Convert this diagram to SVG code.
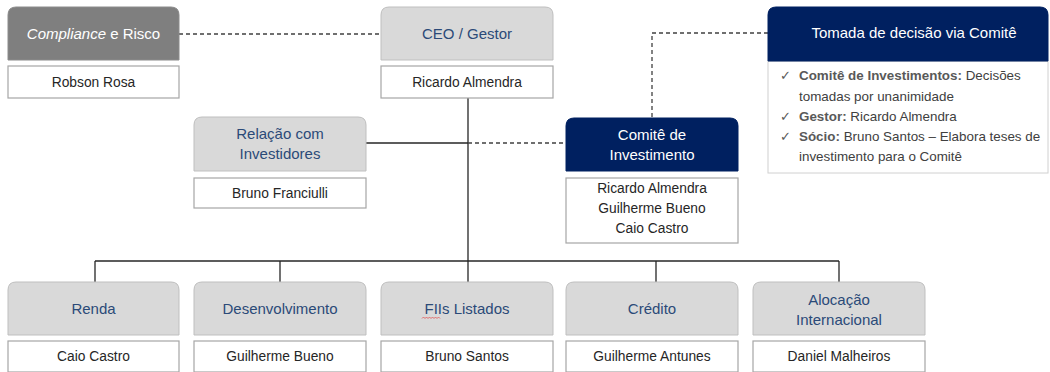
<svg xmlns="http://www.w3.org/2000/svg" width="1050" height="372" viewBox="0 0 1050 372">
<style>
text{font-family:"Liberation Sans","DejaVu Sans",sans-serif;text-anchor:middle}
.hg{fill:#d9d9d9;stroke:#bfbfbf;stroke-width:1}
.hd{fill:#7f7f7f;stroke:#8c8c8c;stroke-width:1}
.hn{fill:#002060;stroke:#002060;stroke-width:1}
.nb{fill:#ffffff;stroke:#a6a6a6;stroke-width:1.2}
.th{font-size:15px;fill:#2b4a78}
.tw{font-size:15px;fill:#ffffff}
.tn{font-size:13.8px;fill:#262626}
.solid{stroke:#262626;stroke-width:1.3;fill:none}
.dash{stroke:#404040;stroke-width:1.3;fill:none;stroke-dasharray:4 3}
.bt{font-size:13.4px;fill:#404040;text-anchor:start}
.bt .b{font-weight:bold;fill:#595959}
.ck{font-size:13px;fill:#595959;text-anchor:start}
</style>
<g id="connectors">
<line class="dash" x1="179" y1="34" x2="381" y2="34"/>
<line class="solid" x1="468" y1="98" x2="468" y2="261"/>
<line class="solid" x1="366" y1="143" x2="468" y2="143"/>
<line class="dash" x1="468" y1="143" x2="566" y2="143"/>
<polyline class="dash" points="768,33 652,33 652,118"/>
<line class="solid" x1="95" y1="261" x2="839" y2="261"/>
<line class="solid" x1="95" y1="261" x2="95" y2="282"/>
<line class="solid" x1="280" y1="261" x2="280" y2="282"/>
<line class="solid" x1="468" y1="261" x2="468" y2="282"/>
<line class="solid" x1="656" y1="261" x2="656" y2="282"/>
<line class="solid" x1="839" y1="261" x2="839" y2="282"/>
</g>
<g id="compliance">
<path class="hd" d="M8,60 V15 Q8,7 16,7 H171 Q179,7 179,15 V60 Z"/>
<text class="tw" x="93.5" y="39" fill="#f2f2f2"><tspan font-style="italic">Compliance</tspan> e Risco</text>
<rect class="nb" x="8" y="66" width="171" height="32"/>
<text class="tn" x="93.5" y="87">Robson Rosa</text>
</g>
<g id="ceo">
<path class="hg" d="M381,60 V15 Q381,7 389,7 H545 Q553,7 553,15 V60 Z"/>
<text class="th" x="467" y="39">CEO / Gestor</text>
<rect class="nb" x="381" y="66" width="172" height="32"/>
<text class="tn" x="467" y="87">Ricardo Almendra</text>
</g>
<g id="relacao">
<path class="hg" d="M194,171 V125 Q194,117 202,117 H358 Q366,117 366,125 V171 Z"/>
<text class="th" x="280" y="139">Relação com</text>
<text class="th" x="280" y="159">Investidores</text>
<rect class="nb" x="194" y="178" width="172" height="30"/>
<text class="tn" x="280" y="198">Bruno Franciulli</text>
</g>
<g id="comite">
<path class="hn" d="M566,171 V126 Q566,118 574,118 H730 Q738,118 738,126 V171 Z"/>
<text class="tw" x="652" y="140">Comitê de</text>
<text class="tw" x="652" y="160">Investimento</text>
<rect class="nb" x="566" y="178" width="172" height="65"/>
<text class="tn" x="652" y="193">Ricardo Almendra</text>
<text class="tn" x="652" y="213">Guilherme Bueno</text>
<text class="tn" x="652" y="233">Caio Castro</text>
</g>
<g id="tomada">
<rect x="768" y="61" width="280" height="112" fill="#ffffff" stroke="#d0d0d0" stroke-width="1"/>
<path class="hn" d="M768,61 V15 Q768,7 776,7 H1040 Q1048,7 1048,15 V61 Z"/>
<text class="tw" x="914" y="38" font-size="16">Tomada de decisão via Comitê</text>
<text class="ck" x="780" y="80">✓</text>
<text class="bt" x="799" y="80"><tspan class="b">Comitê de Investimentos:</tspan> Decisões</text>
<text class="bt" x="799" y="101">tomadas por unanimidade</text>
<text class="ck" x="780" y="121">✓</text>
<text class="bt" x="799" y="121"><tspan class="b">Gestor:</tspan> Ricardo Almendra</text>
<text class="ck" x="780" y="141">✓</text>
<text class="bt" x="799" y="141"><tspan class="b">Sócio:</tspan> Bruno Santos – Elabora teses de</text>
<text class="bt" x="799" y="161">investimento para o Comitê</text>
</g>
<g id="renda">
<path class="hg" d="M8,335 V290 Q8,282 16,282 H171 Q179,282 179,290 V335 Z"/>
<text class="th" x="93.5" y="314">Renda</text>
<rect class="nb" x="8" y="341" width="171" height="31"/>
<text class="tn" x="93.5" y="361">Caio Castro</text>
</g>
<g id="desenvolvimento">
<path class="hg" d="M194,335 V290 Q194,282 202,282 H358 Q366,282 366,290 V335 Z"/>
<text class="th" x="280" y="314">Desenvolvimento</text>
<rect class="nb" x="194" y="341" width="172" height="31"/>
<text class="tn" x="280" y="361">Guilherme Bueno</text>
</g>
<g id="fiis">
<path class="hg" d="M381,335 V290 Q381,282 389,282 H545 Q553,282 553,290 V335 Z"/>
<text class="th" x="467" y="314">FIIs Listados</text>
<path d="M422,318.5 l1.5,-1.5 l1.5,1.5 l1.5,-1.5 l1.5,1.5 l1.5,-1.5 l1.5,1.5 l1.5,-1.5 l1.5,1.5 l1.5,-1.5 l1.5,1.5 l1.5,-1.5 l1.5,1.5" fill="none" stroke="#e05050" stroke-width="0.8"/>
<rect class="nb" x="381" y="341" width="172" height="31"/>
<text class="tn" x="467" y="361">Bruno Santos</text>
</g>
<g id="credito">
<path class="hg" d="M566,335 V290 Q566,282 574,282 H730 Q738,282 738,290 V335 Z"/>
<text class="th" x="652" y="314">Crédito</text>
<rect class="nb" x="566" y="341" width="172" height="31"/>
<text class="tn" x="652" y="361">Guilherme Antunes</text>
</g>
<g id="alocacao">
<path class="hg" d="M753,335 V290 Q753,282 761,282 H917 Q925,282 925,290 V335 Z"/>
<text class="th" x="839" y="305">Alocação</text>
<text class="th" x="839" y="325">Internacional</text>
<rect class="nb" x="753" y="341" width="172" height="31"/>
<text class="tn" x="839" y="361" font-size="13">Daniel Malheiros</text>
</g>
</svg>
